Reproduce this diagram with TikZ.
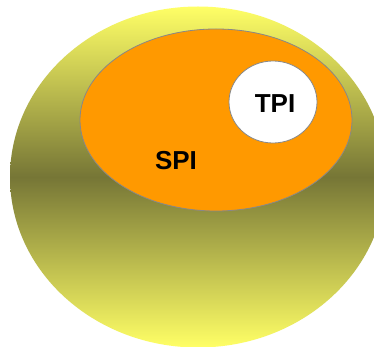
\documentclass[tikz,border=0pt]{standalone}
\usepackage{fontspec}
\setmainfont{Liberation Sans}
\usetikzlibrary{shapes.geometric}
\definecolor{ylight}{HTML}{FFFF66}
\definecolor{olive}{HTML}{767636}
\definecolor{orng}{HTML}{FF9900}
\definecolor{edgegray}{HTML}{888888}
\tikzset{
  outerset/.style={ellipse, inner sep=0pt, outer sep=0pt, top color=ylight, bottom color=ylight, middle color=olive, shading angle=0},
  spiset/.style={ellipse, inner sep=0pt, fill=orng, draw=edgegray, line width=0.8pt},
  tpiset/.style={ellipse, inner sep=0pt, fill=white, draw=edgegray, line width=0.8pt},
  lbl/.style={font=\fontsize{26}{30}\selectfont\bfseries, text=black, inner sep=0pt}
}
\begin{document}
\begin{tikzpicture}[x=1pt, y=-1pt]
\clip (0,0) rectangle (374,347);
\fill[white] (0,0) rectangle (374,347);
\node[outerset, minimum width=376pt, minimum height=341pt] (outer) at (198,177) {};
\node[spiset, minimum width=272pt, minimum height=182pt] (spi) at (216,120) {};
\node[tpiset, minimum width=88pt, minimum height=82pt] (tpi) at (273,102) {};
\node[lbl] (tpitext) at (275,104) {TPI};
\node[lbl] (spitext) at (176,161) {SPI};
\end{tikzpicture}
\end{document}
